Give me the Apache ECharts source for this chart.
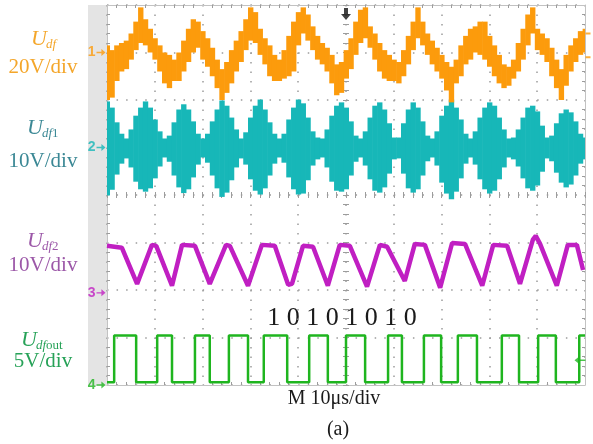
<!DOCTYPE html>
<html>
<head>
<meta charset="utf-8">
<script src="https://cdn.jsdelivr.net/npm/echarts@6/dist/echarts.min.js"></script>
<style>
  html, body { margin: 0; padding: 0; background: #fff; }
  #chart { width: 593px; height: 444px; }
</style>
</head>
<body>
<div id="chart"></div>
<script>
// Sample instants of the banded traces, microseconds (10 us/div, 10 div)
const timeUs = Array.from({ length: 101 }, (_, i) => i);

// Udf (ch1, 20 V/div): per-sample envelope of the chopped trace, volts
const udfMax = [
  3, 1, 3, 4, 5, 8, 13, 19, 14, 10,
  6, 3, 0, -1, -3, 0, 5, 10, 14, 13,
  9, 6, 2, -3, -7, -4, 1, 5, 9, 14,
  19, 17, 10, 6, 3, -1, -3, 1, 7, 13,
  17, 19, 16, 11, 7, 4, 2, -1, -5, -4,
  1, 6, 13, 18, 19, 11, 8, 4, 1, -1,
  -3, -4, 1, 7, 13, 19, 13, 8, 5, 2,
  -1, -4, -6, -3, 3, 7, 10, 11, 13, 13,
  7, 3, -1, -5, -6, -3, 4, 10, 16, 19,
  10, 8, 6, 2, -3, -7, -1, 3, 6, 9,
  10
];
const udfMin = [
  -20, -19, -12, -8, -7, -3, 1, 4, 3, 0,
  -3, -8, -13, -15, -12, -12, -8, -4, 0, 2,
  -3, -6, -10, -15, -20, -17, -13, -8, -4, 1,
  5, 4, -1, -5, -10, -12, -12, -11, -10, -8,
  3, 8, 5, 1, -3, -5, -8, -13, -18, -17,
  -11, -7, -1, 4, 6, 2, -3, -8, -11, -12,
  -12, -13, -10, -5, 1, 6, 3, -1, -5, -8,
  -11, -16, -21, -13, -10, -5, -3, 0, -1, -3,
  -6, -10, -13, -15, -14, -11, -8, -3, 3, 8,
  1, -1, -4, -10, -15, -20, -14, -8, -4, -1,
  0
];

// Udf1 (ch2, 10 V/div): burst envelope, volts
const udf1Max = [
  9.7, 8.4, 5.3, 2.9, 1.9, 3.8, 6.7, 8.4, 9.7, 8.4,
  5.9, 3.4, 1.9, 2.5, 5.3, 8.0, 9.1, 8.0, 5.5, 2.9,
  1.9, 2.9, 5.5, 8.0, 9.9, 8.8, 6.3, 3.8, 1.9, 3.2,
  6.3, 8.8, 10.1, 8.0, 5.3, 2.9, 1.9, 2.9, 5.9, 8.4,
  10.1, 9.3, 6.3, 3.4, 2.1, 1.9, 3.8, 6.7, 8.8, 9.5,
  8.4, 5.5, 2.5, 1.9, 3.4, 6.3, 8.8, 9.5, 8.0, 5.1,
  2.1, 2.1, 5.1, 8.0, 9.5, 8.4, 5.5, 2.5, 1.9, 3.4,
  6.7, 8.8, 10.1, 8.4, 5.9, 2.9, 1.9, 3.4, 6.3, 8.4,
  9.5, 8.8, 6.3, 3.8, 1.9, 2.1, 3.8, 6.3, 8.4, 8.8,
  7.6, 4.6, 2.1, 2.5, 5.1, 7.2, 8.0, 7.4, 5.5, 2.9,
  2.1
];
const udf1Min = [
  -10.1, -8.9, -5.7, -3.4, -2.3, -4.2, -7.2, -8.8, -9.3, -8.6,
  -6.5, -4.0, -2.1, -3.0, -5.9, -8.4, -9.6, -8.8, -6.3, -3.6,
  -2.1, -3.2, -5.9, -8.6, -10.4, -9.5, -6.9, -4.2, -2.3, -3.6,
  -6.7, -9.1, -9.9, -8.6, -5.9, -3.4, -2.1, -3.2, -6.3, -8.8,
  -9.9, -9.7, -6.9, -3.8, -2.5, -2.1, -4.2, -7.2, -9.1, -9.3,
  -8.8, -5.9, -3.0, -2.1, -3.8, -6.7, -9.1, -9.5, -8.4, -5.5,
  -2.5, -2.3, -5.5, -8.6, -9.5, -8.8, -5.9, -2.9, -2.1, -3.8,
  -7.4, -9.7, -10.9, -9.3, -6.5, -3.4, -2.1, -3.6, -6.7, -8.8,
  -9.7, -9.1, -6.7, -4.2, -2.1, -2.5, -4.0, -6.5, -8.6, -9.1,
  -8.0, -5.1, -2.3, -2.9, -5.3, -7.4, -8.4, -7.8, -5.9, -3.4,
  -2.5
];

// Udf2 (ch3, 10 V/div): triangle wave corners
const udf2Time = [0, 3.1, 6.3, 9.4, 10.3, 13.6, 15.7, 18.4, 21.5, 24.9, 25.7, 29.5, 32.4, 35.1, 37.9, 38.7, 41, 43.1, 46.2, 48.7, 50.8, 54.4, 57.1, 58.6, 62.3, 64.4, 66.5, 69.7, 72.2, 74.9, 78.5, 80.8, 83.7, 86.4, 89.1, 89.7, 90.6, 94.1, 96.4, 98.3, 99.6];
const udf2Volt = [9.9, 9.5, 1.9, 10.1, 9.9, 1.5, 10.1, 9.9, 1.9, 10.1, 9.9, 1.5, 10.1, 9.9, 1.7, 1.9, 9.9, 9.7, 1.5, 10.1, 9.9, 1.3, 10.1, 9.7, 2.5, 10.3, 10.1, 1.1, 10.5, 10.3, 1.5, 10.1, 9.9, 1.9, 11.2, 12, 10.3, 1.5, 10.1, 10.1, 4.8];

// Udfout (ch4, 5 V/div): comparator output edges, microseconds
const udfoutRise = [1.5, 10.5, 18.4, 25.5, 32.8, 42.3, 50.0, 58.8, 66.3, 73.4, 82.6, 90.2, 98.8];
const udfoutFall = [6.1, 13.6, 21.5, 29.5, 37.7, 46.2, 54.0, 61.7, 69.9, 77.4, 86.2, 93.9];
const udfoutHigh = 5.2;
const udfoutLow = 0.3;

const bitText = ['1', '0', '1', '0', '1', '0', '1', '0'];
const timebaseText = 'M 10\u03bcs/div';

const C = {
  ch1: '#fc9b0c', ch2: '#17b7b8', ch3: '#c01fc2', ch4: '#1fb51f',
  lab1: '#f4a62a', lab2: '#3b8895', lab3: '#9c58a8', lab4: '#27a258',
  dot: '#9c9c9c', frame: '#c2c2c2'
};
const SERIF = '"Liberation Serif", "Times New Roman", serif';

// step polyline of the output pulses
const udfoutPts = [[0, udfoutLow]];
udfoutRise.forEach((r, i) => {
  udfoutPts.push([r, udfoutLow], [r, udfoutHigh]);
  if (i < udfoutFall.length) {
    udfoutPts.push([udfoutFall[i], udfoutHigh], [udfoutFall[i], udfoutLow]);
  } else {
    udfoutPts.push([100, udfoutHigh]);
  }
});

function bandRenderer(color) {
  return function (params, api) {
    const t = api.value(0);
    const a = api.coord([t - 0.5, api.value(2)]);
    const b = api.coord([t + 0.5, api.value(1)]);
    return {
      type: 'rect',
      shape: { x: a[0], y: a[1], width: b[0] - a[0] + 0.6, height: Math.max(1, b[1] - a[1]) },
      style: { fill: color }
    };
  };
}

const arrowRight = 'path://M0,4 L6,4 L6,0 L11,5 L6,10 L6,6 L0,6 Z';
const arrowLeft = 'path://M11,4 L5,4 L5,0 L0,5 L5,10 L5,6 L11,6 Z';
const arrowDown = 'path://M3,0 L7,0 L7,6 L10,6 L5,12 L0,6 L3,6 Z';

function chMarker(yIdx, name, color) {
  return {
    type: 'scatter', xAxisIndex: 0, yAxisIndex: yIdx, z: 6, clip: false, silent: true,
    data: [[0, 0]],
    symbol: arrowRight, symbolSize: [9, 7], symbolOffset: [-6, 0],
    itemStyle: { color: color },
    label: { show: true, formatter: name, position: 'left', distance: 1, color: color,
      fontSize: 14, fontWeight: 'bold', fontFamily: 'Liberation Sans' }
  };
}

const dots = (period) => ({ show: true, lineStyle: { color: C.dot, width: 1.5, type: [1.5, period - 1.5] } });
const minor = (len) => ({ show: true, splitNumber: 5, length: len, lineStyle: { color: C.dot, width: 1 } });
const off = { show: false };

function symbolText(x, y, color, subParts) {
  return [
    { type: 'text', x: x, y: y, style: { text: 'U', fill: color, font: 'italic 22px ' + SERIF, textAlign: 'left', textVerticalAlign: 'middle' } },
    { type: 'text', x: x + 15, y: y + 6, style: {
        text: subParts, fill: color, textAlign: 'left', textVerticalAlign: 'middle',
        rich: {
          i: { fontFamily: SERIF, fontStyle: 'italic', fontSize: 13, fill: color, color: color },
          r: { fontFamily: SERIF, fontSize: 13, fill: color, color: color }
        } } }
  ];
}
function scaleText(x, y, text, color) {
  return { type: 'text', x: x, y: y, style: { text: text, fill: color, font: '21px ' + SERIF, textAlign: 'center', textVerticalAlign: 'middle' } };
}

const chart = echarts.init(document.getElementById('chart'), null, { renderer: 'canvas' });
chart.setOption({
  animation: false,
  backgroundColor: '#fff',
  grid: { left: 107, top: 5, width: 478, height: 380, containLabel: false },
  xAxis: [
    { type: 'value', min: 0, max: 100, interval: 10, position: 'bottom',
      axisLine: { show: true, onZero: false, lineStyle: { color: C.frame } },
      axisTick: { show: false, inside: true }, minorTick: minor(3),
      axisLabel: off, splitLine: dots(9.5) },
    { type: 'value', min: 0, max: 100, interval: 10, position: 'top',
      axisLine: { show: true, onZero: false, lineStyle: { color: C.frame } },
      axisTick: { show: false, inside: true }, minorTick: minor(3),
      axisLabel: off, splitLine: off },
    { type: 'value', min: 0, max: 100, interval: 10, position: 'bottom',
      axisLine: { show: false, onZero: true, onZeroAxisIndex: 4 },
      axisTick: { show: true, inside: true, length: 3, lineStyle: { color: C.dot } }, minorTick: minor(3),
      axisLabel: off, splitLine: off },
    { type: 'value', min: 0, max: 100, interval: 10, position: 'bottom',
      axisLine: { show: false, onZero: true, onZeroAxisIndex: 4 },
      axisTick: { show: true, inside: false, length: 3, lineStyle: { color: C.dot } }, minorTick: minor(3),
      axisLabel: off, splitLine: off },
    { type: 'value', min: -5, max: 5, show: false }
  ],
  yAxis: [
    { type: 'value', min: -140, max: 20, interval: 20, position: 'left',
      axisLine: { show: true, onZero: false, lineStyle: { color: C.frame } },
      axisTick: { show: false, inside: true }, minorTick: minor(3),
      axisLabel: off, splitLine: dots(9.56) },
    { type: 'value', min: -50, max: 30, show: false },
    { type: 'value', min: -19.4, max: 60.6, show: false },
    { type: 'value', min: 0, max: 40, show: false },
    { type: 'value', min: -4, max: 4, show: false },
    { type: 'value', min: -4, max: 4, interval: 1, position: 'left',
      axisLine: { show: false, onZero: true, onZeroAxisIndex: 4 },
      axisTick: { show: true, inside: true, length: 3, lineStyle: { color: C.dot } }, minorTick: minor(3),
      axisLabel: off, splitLine: off },
    { type: 'value', min: -4, max: 4, interval: 1, position: 'left',
      axisLine: { show: false, onZero: true, onZeroAxisIndex: 4 },
      axisTick: { show: true, inside: false, length: 3, lineStyle: { color: C.dot } }, minorTick: minor(3),
      axisLabel: off, splitLine: off },
    { type: 'value', min: -4, max: 4, interval: 1, position: 'right',
      axisLine: { show: true, onZero: false, lineStyle: { color: C.frame } },
      axisTick: { show: false, inside: true }, minorTick: minor(3),
      axisLabel: off, splitLine: off }
  ],
  graphic: [
    { type: 'rect', z: -1, shape: { x: 88, y: 5, width: 19, height: 381 }, style: { fill: '#e4e4e4' } },
    ...symbolText(31, 39, C.lab1, '{i|df}'),
    scaleText(43, 67, '20V/div', C.lab1),
    ...symbolText(27, 128, C.lab2, '{i|df}{r|1}'),
    scaleText(43, 161, '10V/div', C.lab2),
    ...symbolText(27, 241, C.lab3, '{i|df}{r|2}'),
    scaleText(43, 265, '10V/div', C.lab3),
    ...symbolText(21, 340, C.lab4, '{i|df}{r|out}'),
    scaleText(43, 361, '5V/div', C.lab4),
    { type: 'text', x: 342, y: 318, style: { text: bitText.join(' '), fill: '#1a1a1a', font: '26px ' + SERIF, textAlign: 'center', textVerticalAlign: 'middle' } },
    { type: 'text', x: 334, y: 399, style: { text: timebaseText, fill: '#1a1a1a', font: '20px ' + SERIF, textAlign: 'center', textVerticalAlign: 'middle' } },
    { type: 'text', x: 338, y: 430, style: { text: '(a)', fill: '#1a1a1a', font: '20px ' + SERIF, textAlign: 'center', textVerticalAlign: 'middle' } }
  ],
  series: [
    { name: 'Udfout', type: 'line', xAxisIndex: 0, yAxisIndex: 3, data: udfoutPts,
      showSymbol: false, clip: true, lineStyle: { color: C.ch4, width: 2.5 }, z: 2 },
    { name: 'Udf2', type: 'line', xAxisIndex: 0, yAxisIndex: 2,
      data: udf2Time.map((t, i) => [t, udf2Volt[i]]),
      showSymbol: false, clip: true, lineStyle: { color: C.ch3, width: 4.5 }, z: 2 },
    { name: 'Udf1', type: 'custom', xAxisIndex: 0, yAxisIndex: 1, clip: true, z: 2,
      renderItem: bandRenderer(C.ch2), encode: { x: 0, y: [1, 2] },
      data: timeUs.map((t, i) => [t, udf1Min[i], udf1Max[i]]) },
    { name: 'Udf', type: 'custom', xAxisIndex: 0, yAxisIndex: 0, clip: true, z: 3,
      renderItem: bandRenderer(C.ch1), encode: { x: 0, y: [1, 2] },
      data: timeUs.map((t, i) => [t, udfMin[i], udfMax[i]]) },
    chMarker(0, '1', C.ch1),
    chMarker(1, '2', C.ch2),
    chMarker(2, '3', C.ch3),
    chMarker(3, '4', C.ch4),
    { type: 'scatter', xAxisIndex: 0, yAxisIndex: 0, z: 6, clip: false, silent: true,
      data: [[50, 20]], symbol: arrowDown, symbolSize: [10, 12], symbolOffset: [0, 9],
      itemStyle: { color: '#111' } },
    { type: 'scatter', xAxisIndex: 0, yAxisIndex: 3, z: 6, clip: false, silent: true,
      data: [[100, 2.6]], symbol: arrowLeft, symbolSize: [11, 8], symbolOffset: [-5, 0],
      itemStyle: { color: C.ch4 } },
    { type: 'scatter', xAxisIndex: 0, yAxisIndex: 0, z: 6, clip: false, silent: true,
      data: [[100, 8], [100, -2]], symbol: 'rect', symbolSize: [5, 2], symbolOffset: [3, 0],
      itemStyle: { color: C.ch1 } }
  ]
});
</script>
</body>
</html>
